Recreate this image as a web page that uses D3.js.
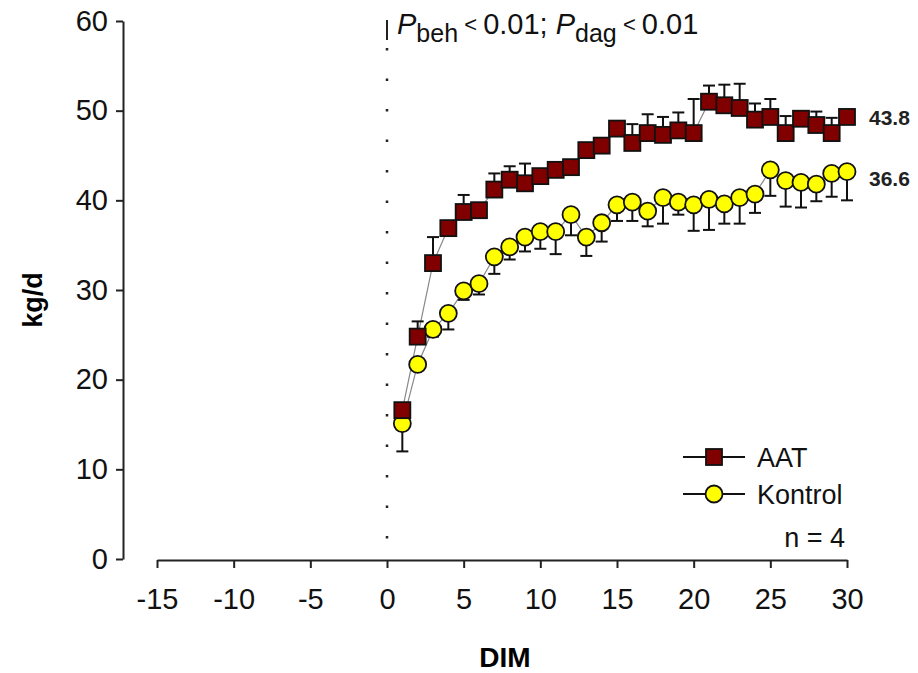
<!DOCTYPE html>
<html>
<head>
<meta charset="utf-8">
<script src="https://cdn.jsdelivr.net/npm/d3@7"></script>
<style>
  body { margin: 0; background: #fff; }
  svg { font-family: "Liberation Sans", Arial, sans-serif; }
  .axis path, .axis line { stroke: #222; stroke-width: 2; }
  .axis text { font-size: 29px; fill: #111; }
</style>
</head>
<body>
<div id="chart"></div>
<script>
// data
const days = d3.range(1, 31);
const aat = [16.6, 24.8, 33.0, 36.9, 38.7, 38.9, 41.2, 42.3, 41.9, 42.7,
             43.4, 43.7, 45.6, 46.1, 48.0, 46.4, 47.5, 47.3, 47.8, 47.5,
             51.0, 50.6, 50.3, 49.0, 49.3, 47.5, 49.1, 48.4, 47.5, 49.3];
const aatErr = [0.5, 1.7, 2.9, 0.5, 1.9, 0.5, 1.8, 1.5, 2.2, 0.5,
                0.5, 0.5, 0.5, 0.5, 0.6, 2.1, 2.1, 2.0, 2.0, 3.8,
                1.8, 2.3, 2.7, 1.8, 2.0, 1.9, 0.8, 1.5, 1.7, 0.5];
const kontrol = [15.1, 21.7, 25.6, 27.4, 29.9, 30.7, 33.7, 34.8, 35.9, 36.5,
                 36.5, 38.4, 35.9, 37.5, 39.5, 39.8, 38.8, 40.3, 39.8, 39.5,
                 40.1, 39.6, 40.3, 40.7, 43.4, 42.2, 42.0, 41.8, 43.0, 43.2];
const kontrolErr = [3.1, 0.5, 0.8, 1.8, 1.0, 1.2, 1.9, 1.4, 1.6, 1.9,
                    2.5, 2.3, 2.1, 2.1, 1.8, 2.1, 1.7, 2.9, 1.4, 2.9,
                    3.4, 2.2, 2.9, 2.1, 2.9, 2.9, 2.8, 1.9, 2.6, 3.2];
const xTicks = [-15, -10, -5, 0, 5, 10, 15, 20, 25, 30];
const yTicks = [0, 10, 20, 30, 40, 50, 60];
const endLabels = ["43.8", "36.6"];

const W = 918, H = 673;

const svg = d3.select("#chart").append("svg")
    .attr("width", W)
    .attr("height", H);

const x = d3.scaleLinear().domain([-15, 30]).range([157, 847]);
const y = d3.scaleLinear().domain([0, 60]).range([559, 21]);

// y axis
svg.append("g")
    .attr("class", "axis")
    .attr("transform", "translate(123,0)")
    .call(d3.axisLeft(y).tickValues(yTicks).tickSize(7).tickSizeOuter(0).tickPadding(8)
        .tickFormat(d => String(d)));

// x axis (plain hyphen for negatives, like the original)
svg.append("g")
    .attr("class", "axis")
    .attr("transform", "translate(0,560)")
    .call(d3.axisBottom(x).tickValues(xTicks).tickSize(8).tickSizeOuter(0).tickPadding(20)
        .tickFormat(d => String(d)));

// axis titles
svg.append("text")
    .attr("x", 505).attr("y", 667)
    .attr("text-anchor", "middle")
    .style("font-size", "28px").style("font-weight", "bold")
    .text("DIM");

svg.append("text")
    .attr("transform", "translate(42,300) rotate(-90)")
    .attr("text-anchor", "middle")
    .style("font-size", "27px").style("font-weight", "bold")
    .text("kg/d");

// dotted line at day 0
svg.append("line")
    .attr("x1", x(0)).attr("x2", x(0))
    .attr("y1", 20).attr("y2", 40)
    .attr("stroke", "#222").attr("stroke-width", 2);
svg.append("line")
    .attr("x1", x(0)).attr("x2", x(0))
    .attr("y1", 48).attr("y2", y(0))
    .attr("stroke", "#222").attr("stroke-width", 2.5)
    .attr("stroke-dasharray", "2.5,28");

// annotation
const ann = svg.append("text")
    .attr("x", 397).attr("y", 34)
    .style("font-size", "29px").attr("fill", "#111");
ann.append("tspan").style("font-style", "italic").text("P");
ann.append("tspan").attr("dy", 8).style("font-size", "25px").text("beh");
ann.append("tspan").attr("dy", -10).style("font-size", "22px").text(" < ");
ann.append("tspan").attr("dy", 2).text("0.01; ");
ann.append("tspan").style("font-style", "italic").text("P");
ann.append("tspan").attr("dy", 8).style("font-size", "25px").text("dag");
ann.append("tspan").attr("dy", -10).style("font-size", "22px").text(" < ");
ann.append("tspan").attr("dy", 2).text("0.01");

const line = d3.line()
    .x((d, i) => x(days[i]))
    .y(d => y(d));

const series = [
  {name: "AAT", values: aat, err: aatErr, dir: 1, shape: "square", fill: "#800000"},
  {name: "Kontrol", values: kontrol, err: kontrolErr, dir: -1, shape: "circle", fill: "#ffff00"}
];

// connecting lines
series.forEach(s => {
  svg.append("path")
      .attr("d", line(s.values))
      .attr("fill", "none")
      .attr("stroke", "#888")
      .attr("stroke-width", 1.2);
});

// error bars
series.forEach(s => {
  const g = svg.append("g").attr("stroke", "#111").attr("stroke-width", 2);
  s.values.forEach((v, i) => {
    const cx = x(days[i]);
    const yEnd = y(v + s.dir * s.err[i]);
    g.append("line").attr("x1", cx).attr("x2", cx).attr("y1", y(v)).attr("y2", yEnd);
    g.append("line").attr("x1", cx - 6).attr("x2", cx + 6).attr("y1", yEnd).attr("y2", yEnd);
  });
});

function marker(g, shape, fill, cx, cy) {
  if (shape === "square") {
    g.append("rect")
        .attr("x", cx - 8).attr("y", cy - 8)
        .attr("width", 16).attr("height", 16)
        .attr("fill", fill).attr("stroke", "#111").attr("stroke-width", 1.8);
  } else {
    g.append("circle")
        .attr("cx", cx).attr("cy", cy).attr("r", 8.5)
        .attr("fill", fill).attr("stroke", "#111").attr("stroke-width", 1.8);
  }
}

// markers (Kontrol first, AAT on top)
[series[1], series[0]].forEach(s => {
  const g = svg.append("g");
  s.values.forEach((v, i) => marker(g, s.shape, s.fill, x(days[i]), y(v)));
});

// end labels
svg.append("text").attr("x", 869).attr("y", 125)
    .style("font-size", "21px").style("font-weight", "bold").attr("fill", "#222")
    .text(endLabels[0]);
svg.append("text").attr("x", 869).attr("y", 186)
    .style("font-size", "21px").style("font-weight", "bold").attr("fill", "#222")
    .text(endLabels[1]);

// legend
const legend = svg.append("g");
series.forEach((s, i) => {
  const ly = 457 + i * 37;
  legend.append("line")
      .attr("x1", 683).attr("x2", 745).attr("y1", ly).attr("y2", ly)
      .attr("stroke", "#111").attr("stroke-width", 2);
  marker(legend, s.shape, s.fill, 714, ly);
  legend.append("text")
      .attr("x", 757).attr("y", ly + 10)
      .style("font-size", "27px").attr("fill", "#111")
      .text(s.name);
});
legend.append("text")
    .attr("x", 845).attr("y", 547)
    .attr("text-anchor", "end")
    .style("font-size", "27px").attr("fill", "#111")
    .text("n = 4");
</script>
</body>
</html>
